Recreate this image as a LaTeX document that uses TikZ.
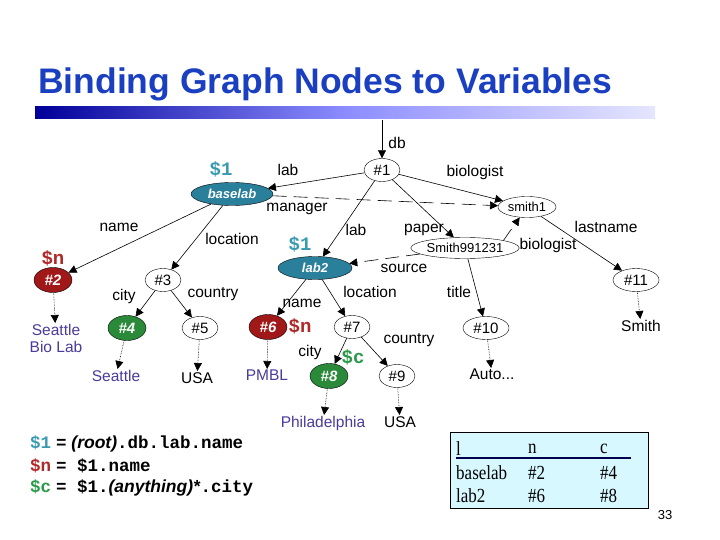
\documentclass[tikz,border=0pt]{standalone}
\usepackage{fontspec}
\setmainfont{Liberation Sans}
\newfontfamily\serif[FakeStretch=0.85]{Liberation Serif}
\newfontfamily\mono{Liberation Mono}
\usetikzlibrary{shapes.geometric,arrows.meta}
\definecolor{teal1}{HTML}{2A7F9A}
\definecolor{red1}{HTML}{A01818}
\definecolor{green1}{HTML}{2A8A3A}
\definecolor{purp}{HTML}{4A3A9A}
\definecolor{titleblue}{HTML}{1A3FC0}
\definecolor{vteal}{HTML}{3A9AB0}
\definecolor{vred}{HTML}{B02828}
\definecolor{vgreen}{HTML}{2A9A4A}
\definecolor{tab}{HTML}{D8F8FF}
\tikzset{
 nd/.style={ellipse,draw,inner sep=0pt,minimum width=36pt,minimum height=23pt,font=\fontsize{15}{16}\selectfont},
 tealn/.style={nd,fill=teal1,text=white,font=\fontsize{13}{14}\selectfont\bfseries\itshape},
 redn/.style={nd,fill=red1,text=white,font=\fontsize{15}{16}\selectfont\bfseries\itshape,minimum width=38pt,minimum height=25pt},
 greenn/.style={nd,fill=green1,text=white,font=\fontsize{15}{16}\selectfont\bfseries\itshape,minimum width=38pt,minimum height=25pt},
 ed/.style={-{Triangle[length=8pt,width=8pt]},line width=0.6pt},
 dd/.style={-{Triangle[length=8pt,width=8pt]},densely dotted,line width=0.6pt},
 dsh/.style={-{Triangle[length=8pt,width=8pt]},dash pattern=on 14pt off 7pt,line width=0.6pt},
 lb/.style={font=\fontsize{15.5}{17}\selectfont,inner sep=1pt},
 lf/.style={font=\fontsize{15.5}{17}\selectfont,inner sep=1pt,text=purp,align=center},
 lk/.style={font=\fontsize{15.5}{17}\selectfont,inner sep=1pt},
 var/.style={font=\fontsize{19}{20}\selectfont\mono\bfseries,inner sep=1pt},
 fm/.style={font=\fontsize{17.5}{20}\selectfont,anchor=west,inner sep=0pt},
 tb/.style={font=\fontsize{20}{22}\selectfont\serif,anchor=west,inner sep=0pt}
}
\begin{document}
\begin{tikzpicture}[x=1pt,y=-1pt]
\useasboundingbox (0,0) rectangle (720,540);
\node[anchor=west,text=titleblue,font=\fontsize{35.5}{38}\selectfont\bfseries,inner sep=0pt] (title) at (38,84) {Binding Graph Nodes to Variables};
\shade[left color=blue!60!black,right color=blue!10,middle color=blue!45] (35,107) rectangle (655,119);
% nodes
\node[nd] (n1) at (382,170) {\#1};
\node[tealn,minimum width=82pt] (bl) at (232,194) {baselab};
\node[nd,minimum width=58pt,minimum height=21pt,font=\fontsize{13}{14}\selectfont] (s1) at (527,207) {smith1};
\node[nd,minimum width=100pt,minimum height=21pt,font=\fontsize{13}{14}\selectfont] (sp) at (465,248) {Smith991231};
\node[tealn,minimum width=74pt] (l2) at (315,268) {lab2};
\node[redn] (n2) at (53,280) {\#2};
\node[nd] (n3) at (163,280) {\#3};
\node[nd,minimum width=46pt] (n11) at (636,280) {\#11};
\node[greenn] (n4) at (127,328) {\#4};
\node[nd] (n5) at (200,328) {\#5};
\node[redn] (n6) at (268,327) {\#6};
\node[nd] (n7) at (352,327) {\#7};
\node[nd,minimum width=46pt] (n10) at (486,328) {\#10};
\node[greenn] (n8) at (329,376) {\#8};
\node[nd] (n9) at (397,376) {\#9};
% leaves
\node[lf,anchor=north] (v2) at (56,323) {Seattle\\Bio Lab};
\node[lf,anchor=north] (v4) at (116,369) {Seattle};
\node[lk,anchor=north] (v5) at (197,371) {USA};
\node[lf,anchor=north] (v6) at (267,369) {PMBL};
\node[lf,anchor=north] (v8) at (323,415) {Philadelphia};
\node[lk,anchor=north] (v9) at (400,415) {USA};
\node[lk,anchor=north] (v10) at (492,368) {Auto...};
\node[lk,anchor=north] (v11) at (641,319) {Smith};
\coordinate (top) at (382,120);
% edges
\draw[ed] (top) -- (n1);
\draw[ed] (n1) -- (bl);
\draw[ed] (n1) -- (s1);
\draw[ed] (n1) -- (l2);
\draw[ed] (n1) -- (sp);
\draw[dsh] (bl) -- (s1);
\draw[dsh] (sp) -- (l2);
\draw[dsh] (sp.north east) -- (s1);
\draw[ed] (bl) -- (n2);
\draw[ed] (bl) -- (n3);
\draw[ed] (n3) -- (n4);
\draw[ed] (n3) -- (n5);
\draw[ed] (l2) -- (n6);
\draw[ed] (l2) -- (n7);
\draw[ed] (n7) -- (n8);
\draw[ed] (n7) -- (n9);
\draw[ed] (sp) -- (n10);
\draw[ed] (s1) -- (n11);
\foreach \a/\b in {n2/v2,n4/v4,n5/v5,n6/v6,n8/v8,n9/v9,n10/v10,n11/v11} \draw[dd] (\a) -- (\b);
% edge labels
\node[lb] (t1) at (397,143) {db};
\node[lb] (t2) at (288,170) {lab};
\node[lb] (t3) at (475,172) {biologist};
\node[lb] (t4) at (119,227) {name};
\node[lb] (t5) at (297,209) {manager};
\node[lb] (t6) at (232,239) {location};
\node[lb] (t7) at (356,230) {lab};
\node[lb] (t8) at (424,230) {paper};
\node[lb] (t9) at (548,245) {biologist};
\node[lb] (t10) at (606,227) {lastname};
\node[lb] (t11) at (404,268) {source};
\node[lb] (t12) at (370,292) {location};
\node[lb] (t13) at (459,292) {title};
\node[lb] (t14) at (124,296) {city};
\node[lb] (t15) at (213,294) {country};
\node[lb] (t16) at (302,303) {name};
\node[lb] (t17) at (310,352) {city};
\node[lb] (t18) at (409,340) {country};
% variables
\node[var,text=vteal] (a1) at (221,169) {\$1};
\node[var,text=vteal] (a2) at (300,244) {\$1};
\node[var,text=vred] (a3) at (53,258) {\$n};
\node[var,text=vred] (a4) at (300,326) {\$n};
\node[var,text=vgreen] (a5) at (353,357) {\$c};
% formulas
\node[fm] (f1) at (30,444) {{\mono\bfseries\color{vteal}\$1} {\mono\bfseries=} \textbf{\textit{(root)}}{\mono\bfseries.db.lab.name}};
\node[fm] (f2) at (30,466) {{\mono\bfseries\color{vred}\$n} {\mono\bfseries= \$1.name}};
\node[fm] (f3) at (30,488) {{\mono\bfseries\color{vgreen}\$c} {\mono\bfseries= \$1.}\textbf{\textit{(anything)*}}{\mono\bfseries.city}};
% table
\draw[fill=tab,line width=0.6pt] (450,432) rectangle (648,508);
\node[tb] (h1) at (456,449) {l};
\node[tb] (h2) at (528,449) {n};
\node[tb] (h3) at (600,449) {c};
\draw[line width=1.5pt,color=blue!30!black] (456,458) -- (631,458);
\node[tb] (r1) at (456,473) {baselab};
\node[tb] (r2) at (528,473) {\#2};
\node[tb] (r3) at (600,473) {\#4};
\node[tb] (r4) at (456,496) {lab2};
\node[tb] (r5) at (528,496) {\#6};
\node[tb] (r6) at (600,496) {\#8};
\node[font=\fontsize{13}{14}\selectfont] (pg) at (665,515) {33};
\end{tikzpicture}
\end{document}
